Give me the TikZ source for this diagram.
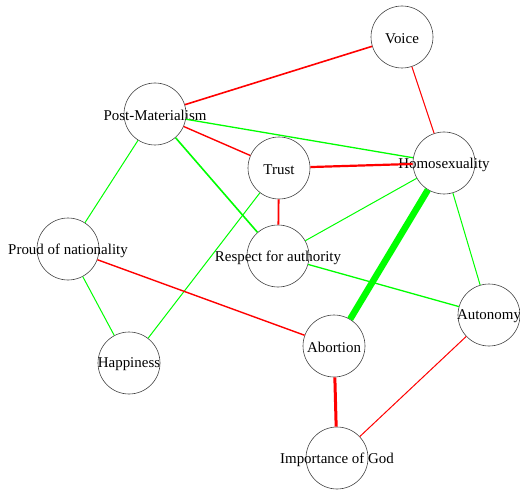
\documentclass[tikz,border=0pt]{standalone}
\usepackage{fontspec}
\setmainfont{Liberation Serif}
\usepackage{tikz}
\usetikzlibrary{backgrounds}
\newcommand\varsize{\fontsize{15}{18}\selectfont}
\tikzset{
        var/.style={draw=black!75, circle, minimum size=62bp, inner sep=0pt, line width=0.6bp},
        varlabel/.style={font=\varsize, inner sep=0pt, yshift=-1.5bp},
        posedge/.style={draw=green},
        negedge/.style={draw=red},
}

\begin{document}
\begin{tikzpicture}[x=1bp, y=-1bp]
        \useasboundingbox (0,0) rectangle (520,491);
        \node[var, label={[varlabel]center:Voice}] (voice) at (402,37) {};
        \node[var, label={[varlabel]center:Post-Materialism}] (postmat) at (155,114) {};
        \node[var, label={[varlabel]center:Trust}] (trust) at (279,168) {};
        \node[var, label={[varlabel]center:Homosexuality}] (homo) at (444,163) {};
        \node[var, label={[varlabel]center:Proud of nationality}] (proud) at (68,249) {};
        \node[var, label={[varlabel]center:Respect for authority}] (respect) at (278,256) {};
        \node[var, label={[varlabel]center:Autonomy}] (autonomy) at (489,315) {};
        \node[var, label={[varlabel]center:Abortion}] (abortion) at (334,346) {};
        \node[var, label={[varlabel]center:Happiness}] (happiness) at (129,363) {};
        \node[var, label={[varlabel]center:Importance of God}] (god) at (337,458) {};

        \draw[negedge, line width=1.6bp] (postmat) -- (voice);
        \draw[negedge, line width=1bp] (voice) -- (homo);
        \draw[posedge, line width=1.3bp] (postmat) -- (homo);
        \draw[negedge, line width=1.4bp] (postmat) -- (trust);
        \draw[posedge, line width=1.6bp] (postmat) -- (respect);
        \draw[posedge, line width=1bp] (postmat) -- (proud);
        \draw[negedge, line width=2.2bp] (trust) -- (homo);
        \draw[negedge, line width=1.8bp] (trust) -- (respect);
        \draw[posedge, line width=1bp] (trust) -- (happiness);
        \draw[posedge, line width=1bp] (homo) -- (respect);
        \draw[posedge, line width=6.5bp] (homo) -- (abortion);
        \draw[posedge, line width=1bp] (homo) -- (autonomy);
        \draw[posedge, line width=1bp] (proud) -- (happiness);
        \draw[negedge, line width=1.4bp] (proud) -- (abortion);
        \draw[posedge, line width=1.3bp] (respect) -- (autonomy);
        \draw[negedge, line width=3bp] (abortion) -- (god);
        \draw[negedge, line width=1bp] (autonomy) -- (god);
\end{tikzpicture}
\end{document}
